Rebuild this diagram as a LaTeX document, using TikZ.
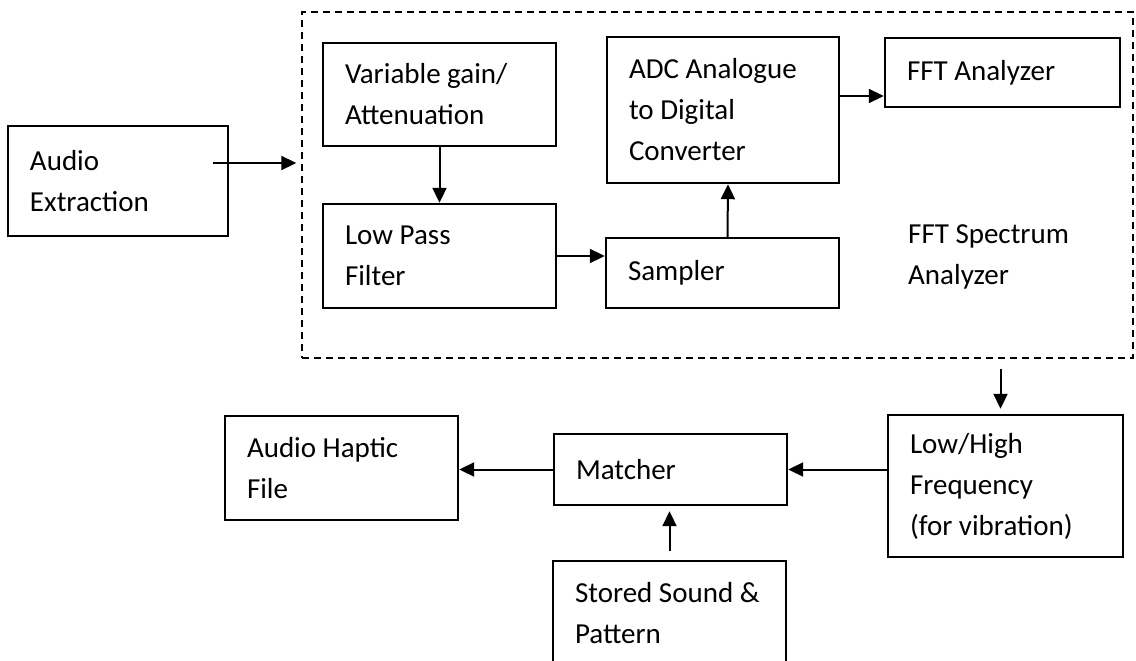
\documentclass[tikz,border=0pt]{standalone}
\usepackage{fontspec}
\setmainfont{Carlito}
\usetikzlibrary{arrows.meta}

\begin{document}
\begin{tikzpicture}[x=1pt,y=-1pt,
	blk/.style 2 args={draw, line width=2.4pt, align=flush left, inner xsep=22pt, inner ysep=0pt, text width=#1, minimum height=#2},
	arr/.style={-{Triangle[length=15pt,width=14pt]}, line width=2pt},
	every node/.style={font=\fontsize{29}{41}\selectfont}]

		\useasboundingbox (0,0) rectangle (1136,661);

		\node(analyser) at (717.5,185)[draw, line width=1.4pt, dash pattern=on 7pt off 5pt, minimum width=831pt, minimum height=346pt]{};
		\node(ae) at (118,181)[blk={176pt}{110pt}]{Audio\\Extraction};
		\node(vg) at (439.5,94.5)[blk={189pt}{103pt}]{Variable~gain/\\Attenuation};
		\node(lpf) at (439.5,256)[blk={189pt}{104pt}]{Low Pass\\Filter};
		\node(adc) at (723,110)[blk={188pt}{146pt}]{ADC~Analogue\\to Digital\\Converter};
		\node(smp) at (722.5,273)[blk={189pt}{70pt}]{Sampler};
		\node(fft) at (1002.5,72.5)[blk={191pt}{69pt}]{FFT~Analyzer};
		\node(spec) at (908,243)[anchor=base west, inner sep=0pt, text width=200pt, align=flush left]{FFT Spectrum\\Analyzer};
		\node(lh) at (1005.5,486)[blk={191pt}{142pt}]{Low/High\\Frequency\\(for~vibration)};
		\node(mt) at (670.5,469.5)[blk={189pt}{71pt}]{Matcher};
		\node(ah) at (341.5,468)[blk={189pt}{104pt}]{Audio~Haptic\\File};
		\node(ss) at (669.5,613)[blk={189pt}{104pt}]{Stored~Sound~\&\\Pattern};

		\draw[arr, shorten >=5pt] ([xshift=-16pt,yshift=18pt]ae.east) coordinate(aeout) -- (aeout -| analyser.west);
		\draw[arr] (vg) -- (lpf);
		\draw[arr] (lpf.east) -- (lpf.east -| smp.west);
		\draw[arr] ([xshift=5pt]smp.north) -- ([xshift=5pt]adc.south);
		\draw[arr] ([yshift=14pt]adc.east) coordinate(adcout) -- (adcout -| fft.west);
		\draw[arr, shorten <=10pt, shorten >=5pt] ([xshift=-5pt]lh.north |- analyser.south) -- ([xshift=-5pt]lh.north);
		\draw[arr] (mt.east -| lh.west) -- (mt.east);
		\draw[arr] (mt.west) -- (mt.west -| ah.east);
		\draw[arr, shorten <=9pt, shorten >=5pt] (ss.north) -- (ss.north |- mt.south);

	\end{tikzpicture}
\end{document}
